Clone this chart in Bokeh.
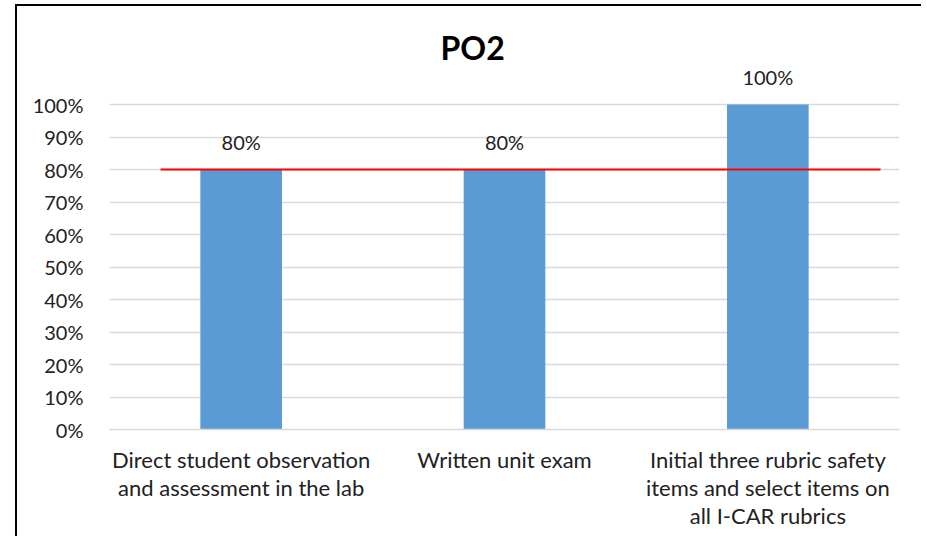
from bokeh.plotting import figure
from bokeh.models import (ColumnDataSource, Range1d, FixedTicker, NumeralTickFormatter,
                          LabelSet, Title)
from bokeh.core.properties import value
from bokeh.embed import file_html
from bokeh.resources import INLINE

# ---- data ----
categories = [
    "Direct student observation\nand assessment in the lab",
    "Written unit exam",
    "Initial three rubric safety\nitems and select items on\nall I-CAR rubrics",
]
values = [0.80, 0.80, 1.00]
target = 0.80
y_ticks = [0.0, 0.1, 0.2, 0.3, 0.4, 0.5, 0.6, 0.7, 0.8, 0.9, 1.0]
title_text = "PO2"

# ---- styling ----
FONT = "Lato"
TXT = "#222222"
BAR = "#5b9bd5"
GRID = "#d9d9d9"

xs = [i + 0.5 for i in range(len(categories))]
labels = [f"{round(v * 100)}%" for v in values]
src = ColumnDataSource(dict(x=xs, top=values, label=labels))

p = figure(width=906, height=532, output_backend="svg", toolbar_location=None,
           x_range=Range1d(0, len(categories)), y_range=Range1d(0, 1.12),
           min_border_left=92, min_border_right=24, min_border_top=59,
           min_border_bottom=109, title=None)
# chart-area border (only its left and top edges fall inside the window)
p.styles = {"margin-left": "17px", "margin-top": "6px",
            "box-shadow": "-2px -2px 0px 0px black"}
p.outline_line_color = None
p.background_fill_color = "white"
p.border_fill_color = "white"

t = Title(text=title_text, align="left", offset=331, text_font=FONT,
          text_font_size="32px", text_font_style="bold", text_color="black",
          standoff=-3)
p.add_layout(t, "above")

p.vbar(x="x", top="top", width=0.31, bottom=0, source=src, color=BAR, line_color=None)

# target line
p.line(x=[0.194, 2.928], y=[target, target], line_color="#ff0000", line_width=2)

p.add_layout(LabelSet(x="x", y="top", text="label", source=src, y_offset=20,
                      text_align="center", text_baseline="alphabetic",
                      text_font=value(FONT), text_font_size=value("20px"),
                      text_color=TXT))

# y axis
p.yaxis.ticker = FixedTicker(ticks=y_ticks)
p.yaxis.formatter = NumeralTickFormatter(format="0%")
p.yaxis.axis_line_color = None
p.yaxis.major_tick_line_color = None
p.yaxis.minor_tick_line_color = None
p.yaxis.major_label_text_font = FONT
p.yaxis.major_label_text_font_size = "20px"
p.yaxis.major_label_text_color = TXT
p.yaxis.major_label_standoff = 20

# x axis
p.xaxis.ticker = FixedTicker(ticks=xs)
p.xaxis.major_label_overrides = {x: c for x, c in zip(xs, categories)}
p.xaxis.axis_line_color = GRID
p.xaxis.axis_line_width = 1.5
p.xaxis.major_tick_line_color = None
p.xaxis.minor_tick_line_color = None
p.xaxis.major_label_text_font = FONT
p.xaxis.major_label_text_font_size = "22px"
p.xaxis.major_label_text_color = TXT
p.xaxis.major_label_standoff = 10
p.xaxis.major_label_text_line_height = 1.05

p.xgrid.grid_line_color = None
p.ygrid.ticker = FixedTicker(ticks=y_ticks)
p.ygrid.grid_line_color = GRID
p.ygrid.grid_line_width = 1.5

open("out.html", "w").write(file_html(p, INLINE))
